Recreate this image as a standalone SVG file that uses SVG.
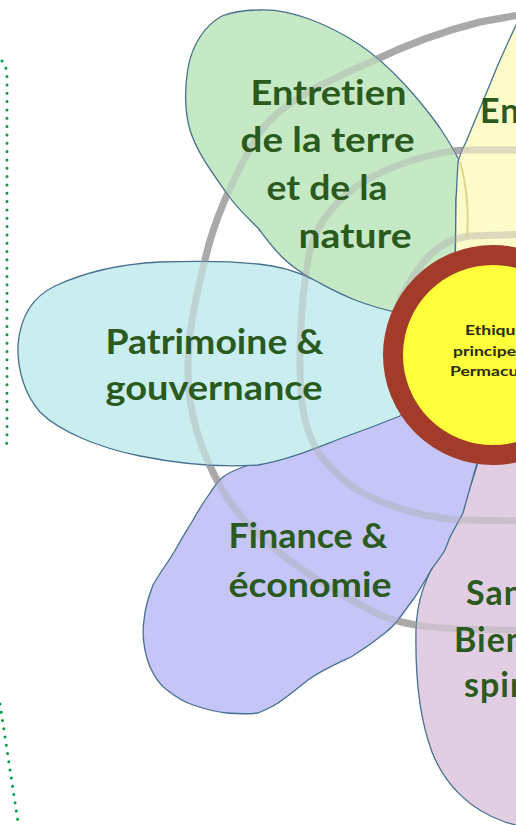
<svg xmlns="http://www.w3.org/2000/svg" width="516" height="825" viewBox="0 0 516 825">
<style>
.petal{stroke:#46708f;stroke-width:1.3;stroke-linejoin:round}
.spiral{fill:none;stroke:#a9a9a9;stroke-width:7;stroke-linecap:round}
.ov{fill:none;stroke:#8f8f8f;stroke-width:7;stroke-linecap:round;opacity:0.4}
.lbl{font-family:Lato,"Open Sans",sans-serif;font-weight:700;font-size:34px;fill:#2b5a1e;font-variant-ligatures:none}
.ctr{font-family:Lato,"Open Sans",sans-serif;font-weight:700;font-size:13px;fill:#2a2a10;font-variant-ligatures:none}
.dots{fill:none;stroke:#009a48;stroke-width:3;stroke-linecap:round;stroke-dasharray:0 8.33}
</style>
<rect width="516" height="825" fill="#ffffff"/>
<g id="dotted-frame">
<path class="dots" d="M2,61 Q7,66 7,78 L7,440 Q7,446 3,449"/>
<path class="dots" d="M0,704 L18,822"/>
</g>
<g id="spiral-under">
<path id="ring1" class="spiral" d="M530,13 L480,22 C440,32 400,48 375,60 C320,84 275,105 255,140 C235,175 215,215 205,260 C195,300 183,350 190,400 C196,440 215,485 240,515 C270,550 320,585 380,615 C410,628 450,630 530,630"/>
<path id="ring2" class="spiral" d="M530,150 L470,150 C440,150 400,162 370,178 C340,195 318,220 310,250 C300,300 296,380 305,420 C312,448 325,465 350,485 C375,503 420,517 460,520 L530,521"/>
<path id="ring3" class="spiral" d="M530,234 L470,236 C455,238 440,245 430,255 C420,265 410,280 400,300"/>
</g>
<g id="petal-green">
<path class="petal" fill="#c6e9c5" d="M258,10 C290,8 330,25 360,45 C390,65 420,100 440,128 C448,140 455,152 460,162 L456,200 L455,280 L400,330 L330,330 L312,279 C300,272 290,265 282,257 C272,247 265,237 258,228 C248,218 236,207 228,195 C210,170 196,150 190,130 C184,110 185,85 188,68 C192,45 205,25 222,16 C235,11 245,10 258,10 Z"/>
</g>
<g id="petal-yellow">
<path class="petal" fill="#fdfbca" d="M525,8 C515,25 507,45 497,67 C487,92 475,120 466,142 C462,150 459,157 458,162 L456,200 L455,290 L560,290 L560,0 Z"/>
</g>
<g id="petal-pink">
<path class="petal" fill="#e2cee3" d="M470,440 L478,462 C470,490 455,530 440,555 C425,578 417,600 416,630 C415,680 420,720 432,752 C445,785 470,810 505,822 L540,832 L560,460 Z"/>
</g>
<g id="petal-purple">
<path class="petal" fill="#c5c6f7" d="M420,400 L300,440 L258,462 C252,464 248,465 243,467 C235,470 228,473 223,477 C217,482 214,487 210,493 C203,503 198,511 193,520 C187,530 182,538 177,547 C170,560 160,572 153,585 C148,598 145,608 144,620 C142,635 144,652 150,667 C155,678 160,685 167,690 C176,697 184,702 193,705 C205,709 216,712 227,713 C240,714 250,714 258,713 C265,710 272,707 278,703 C290,695 298,688 308,680 C322,670 336,664 351,657 C364,649 375,641 385,633 C391,628 395,624 398,620 C404,612 409,605 415,597 C421,588 426,579 431,570 C436,563 441,557 445,550 L450,537 L463,513 L477,463 L482,420 Z"/>
</g>
<g id="petal-cyan">
<path class="petal" fill="#caeef0" d="M258,264 C230,261 190,261 160,262 C120,264 85,272 55,286 C30,298 20,320 18,345 C17,370 25,395 40,412 C60,432 100,448 140,456 C175,463 215,468 258,465 C290,460 320,446 350,435 C370,428 390,420 405,414 L430,400 L430,320 L400,313 C385,310 368,305 355,300 C335,292 322,284 312,279 C298,272 280,266 258,264 Z"/>
</g>
<g id="spiral-over">
<use href="#ring1" class="ov"/>
<use href="#ring2" class="ov"/>
<use href="#ring3" class="ov"/>
<path d="M460,162 C467,185 469,215 467,237" fill="none" stroke="#d3cc86" stroke-width="2" opacity="0.8"/>
</g>
<g id="centre">
<circle cx="493" cy="355" r="100" fill="#ffff3c" stroke="#a33b2b" stroke-width="20"/>
<text class="ctr" transform="translate(465,335) scale(1.35,1)">Ethiques</text>
<text class="ctr" transform="translate(453,356) scale(1.35,1)">principes</text>
<text class="ctr" transform="translate(450,376) scale(1.35,1)">Permaculture</text>
</g>
<g id="labels">
<text class="lbl" x="250.5" y="105" textLength="156" lengthAdjust="spacingAndGlyphs">Entretien</text>
<text class="lbl" x="240.5" y="152" textLength="174" lengthAdjust="spacingAndGlyphs">de la terre</text>
<text class="lbl" x="266.5" y="200" textLength="121" lengthAdjust="spacingAndGlyphs">et de la</text>
<text class="lbl" x="298.5" y="248" textLength="113" lengthAdjust="spacingAndGlyphs">nature</text>
<text class="lbl" x="480" y="123" letter-spacing="1">Environnement</text>
<text class="lbl" x="105.5" y="354" textLength="218" lengthAdjust="spacingAndGlyphs">Patrimoine &amp;</text>
<text class="lbl" x="105.5" y="400" textLength="217" lengthAdjust="spacingAndGlyphs">gouvernance</text>
<text class="lbl" x="228.5" y="548" textLength="159" lengthAdjust="spacingAndGlyphs">Finance &amp;</text>
<text class="lbl" x="228.5" y="597" textLength="163" lengthAdjust="spacingAndGlyphs">économie</text>
<text class="lbl" x="466" y="605" letter-spacing="1">Santé &amp;</text>
<text class="lbl" x="454" y="652" letter-spacing="1">Bien-être</text>
<text class="lbl" x="464" y="697" letter-spacing="1">spirituel</text>
</g>
</svg>
